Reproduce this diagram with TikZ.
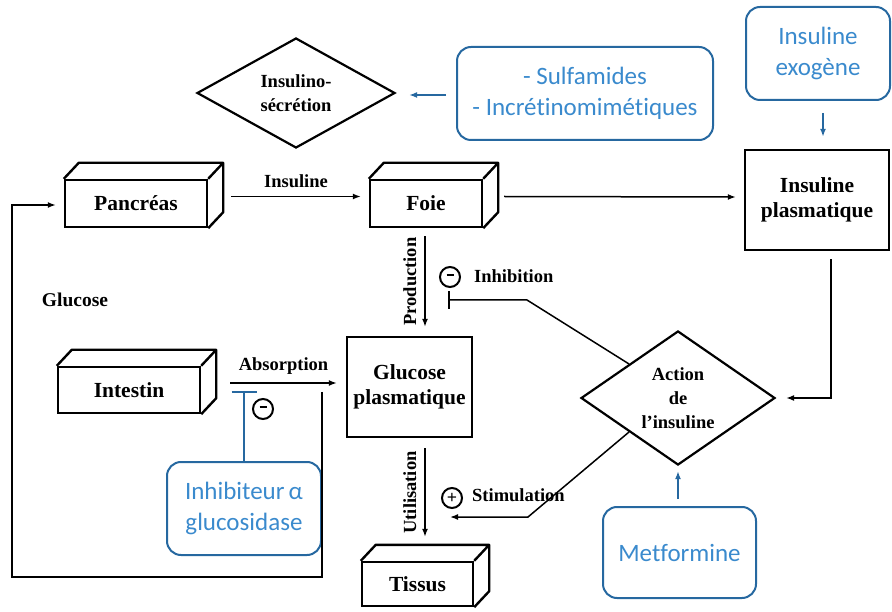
\documentclass[tikz,border=0pt]{standalone}
\usepackage{fontspec}
\setmainfont{Liberation Serif}
\newfontfamily\policebleue[Ligatures=NoCommon]{Carlito}
\usetikzlibrary{shapes.geometric,arrows.meta,calc}
\definecolor{bleutexte}{RGB}{58,138,205}
\definecolor{bleubord}{RGB}{38,104,160}
\newcommand{\relief}[1]{%
  \draw[line width=2.4pt,line join=round] (#1.north west) -- ++(15,-16) -- ($(#1.north east)+(15,-16)$)
    -- ($(#1.south east)+(15,-16)$) -- (#1.south east) (#1.north east) -- ++(15,-16);}
\begin{document}
\begin{tikzpicture}[x=1pt,y=-1pt,
    boite/.style={draw,line width=2.4pt,fill=white,align=center,inner sep=0pt,
      font=\fontsize{21.5}{25}\selectfont\bfseries},
    losange/.style={draw,diamond,line width=2.2pt,align=center,inner sep=0pt,
      font=\fontsize{18.5}{24}\selectfont\bfseries},
    bleu/.style={draw=bleubord,line width=2pt,rounded corners=14pt,text=bleutexte,align=center,
      inner sep=0pt,font=\policebleue\fontsize{25}{31}\selectfont},
    lien/.style={line width=1.5pt},
    fleche/.style={lien,-{Latex[length=8pt,width=6pt]}},
    flechebleue/.style={draw=bleubord,line width=1.8pt,-{Latex[length=8pt,width=6pt]}},
    etiquette/.style={inner sep=0pt,font=\fontsize{18.5}{20}\selectfont\bfseries},
    signe/.style={draw,circle,line width=2pt,minimum size=20pt,inner sep=0pt,
      font=\fontsize{18}{18}\selectfont\bfseries}]
  \useasboundingbox (0,0) rectangle (892,612);

  \node[boite,minimum width=142pt,minimum height=47pt] (pancreas) at (136,203.5) {Pancréas};
  \node[boite,minimum width=112pt,minimum height=47pt] (foie) at (426,203.5) {Foie};
  \node[boite,minimum width=142pt,minimum height=46pt] (intestin) at (129,390) {Intestin};
  \node[boite,minimum width=111pt,minimum height=44pt] (tissus) at (417.5,584) {Tissus};
  \relief{pancreas}
  \relief{foie}
  \relief{intestin}
  \relief{tissus}
  \node[boite,minimum width=125pt,minimum height=100pt] (glucose) at (409.5,387) {Glucose\\plasmatique};
  \node[boite,minimum width=144pt,minimum height=100pt] (plasma) at (817,200) {Insuline\\plasmatique};
  \node[losange,minimum width=198pt,minimum height=110pt] (secretion) at (296,93) {Insulino-\\sécrétion};
  \node[losange,minimum width=194pt,minimum height=124pt] (action) at (678,398) {Action\\de\\l’insuline};

  \node[bleu,minimum width=256pt,minimum height=93pt] (sulfamides) at (585,93.5) {- Sulfamides\\- Incrétinomimétiques};
  \node[bleu,minimum width=144pt,minimum height=93pt] (exogene) at (818,53.5) {Insuline\\exogène};
  \node[bleu,minimum width=154pt,minimum height=93pt] (inhibiteur) at (244,508.5) {Inhibiteur\,α\\glucosidase};
  \node[bleu,minimum width=153pt,minimum height=91pt] (metformine) at (679.5,552.5) {Metformine};

  \node[etiquette,font=\fontsize{19.5}{20}\selectfont\bfseries] (glucoselabel) at (75,300) {Glucose};
  \node[signe] (moins1) at (450,277) {\rule[0.45ex]{7pt}{2.5pt}};
  \node[etiquette,anchor=west] (inhibition) at (474,276) {Inhibition};
  \node[signe] (plus) at (452,498) {+};
  \node[etiquette,anchor=west] (stimulation) at (472,495) {Stimulation};
  \node[signe] (moins2) at (263,409) {\rule[0.45ex]{7pt}{2.5pt}};

  \coordinate (coin) at (12,577);
  \coordinate (coude1) at (527,300);
  \coordinate (coude2) at (528,517);
  \coordinate (blocage) at ($(inhibiteur.north |- intestin.east)+(0,1)$);

  \draw[fleche] ([shift={(23,-7)}]pancreas.east) -- ([shift={(-8,-7)}]foie.west)
    node[etiquette,midway,above=8pt] {Insuline};
  \draw[fleche] ([shift={(21,-7)}]foie.east) -- ([shift={(-8,-3)}]plasma.west);
  \draw[fleche] ([shift={(-1,8)}]foie.south) -- ([shift={(15.5,-9)}]glucose.north)
    node[etiquette,midway,rotate=90,anchor=south,inner ysep=8pt] {Production};
  \draw[fleche] ([shift={(15.5,10)}]glucose.south) -- ([shift={(7.5,-24)}]tissus.north)
    node[etiquette,midway,rotate=90,anchor=south,inner ysep=8pt] {Utilisation};
  \draw[fleche] ([shift={(29,-7)}]intestin.east) -- ([shift={(-9,-4)}]glucose.west)
    node[etiquette,midway,above=8pt] {Absorption};
  \draw[fleche] ([shift={(-24,5)}]glucose.west) |- (coin) |- ([shift={(-8,1.5)}]pancreas.west);
  \draw[fleche] ([shift={(14,8)}]plasma.south) |- ([shift={(10,0)}]action.east);
  \draw[lien,-{Bar[width=18pt,line width=1.5pt]}] (action.north west) -- (coude1) -- ([shift={(-79,0)}]coude1);
  \draw[fleche] (action.south west) -- (coude2) -- ([shift={(-78,0)}]coude2);

  \draw[flechebleue] ([shift={(-10,1.5)}]sulfamides.west) -- ([shift={(13,2)}]secretion.east);
  \draw[flechebleue] ([shift={(5,12)}]exogene.south) -- ([shift={(6,-12)}]plasma.north);
  \draw[flechebleue] ([shift={(-1.5,-7)}]metformine.north) -- ([shift={(0,5)}]action.south);
  \draw[draw=bleubord,line width=1.8pt,-{Bar[width=25pt,line width=1.8pt]}] (inhibiteur.north) -- (blocage);
\end{tikzpicture}
\end{document}
